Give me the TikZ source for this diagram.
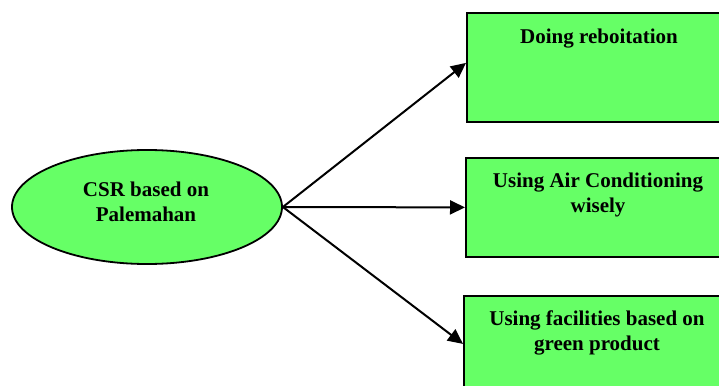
\documentclass[tikz,border=0pt]{standalone}
\usepackage{fontspec}
\setmainfont{Liberation Serif}
\usetikzlibrary{arrows.meta,shapes.geometric}
\definecolor{boxgreen}{HTML}{66FF66}
\begin{document}
\begin{tikzpicture}[x=1pt,y=-1pt,
  greenbox/.style={draw=black, line width=1.8pt, fill=boxgreen, rectangle, inner sep=0pt, anchor=north west},
  lbl/.style={font=\fontsize{21}{25}\selectfont\bfseries, align=center, inner sep=0pt, anchor=base},
  conn/.style={line width=2pt, -{Triangle[length=15pt,width=14pt]}}]
\useasboundingbox (0,0) rectangle (719,385);
\node[greenbox, minimum width=266pt, minimum height=109pt] (b1) at (466,12) {};
\node[greenbox, minimum width=266pt, minimum height=99pt] (b2) at (465,157) {};
\node[greenbox, minimum width=268pt, minimum height=96pt] (b3) at (463,295) {};
\node[ellipse, draw=black, line width=1.8pt, fill=boxgreen, minimum width=270pt, minimum height=114pt, inner sep=0pt] (e) at (147,207) {};
\node[lbl] (t1) at (599,44) {Doing reboitation};
\node[lbl] (t2) at (598,212) {Using Air Conditioning\\wisely};
\node[lbl] (t3) at (597,350) {Using facilities based on\\green product};
\node[lbl] (t0) at (146,221) {CSR based on\\Palemahan};
\draw[conn] (e.east) -- ([yshift=4.5pt]b1.west);
\draw[conn] (e.east) -- (b2.west);
\draw[conn] (e.east) -- (b3.west);
\end{tikzpicture}
\end{document}
